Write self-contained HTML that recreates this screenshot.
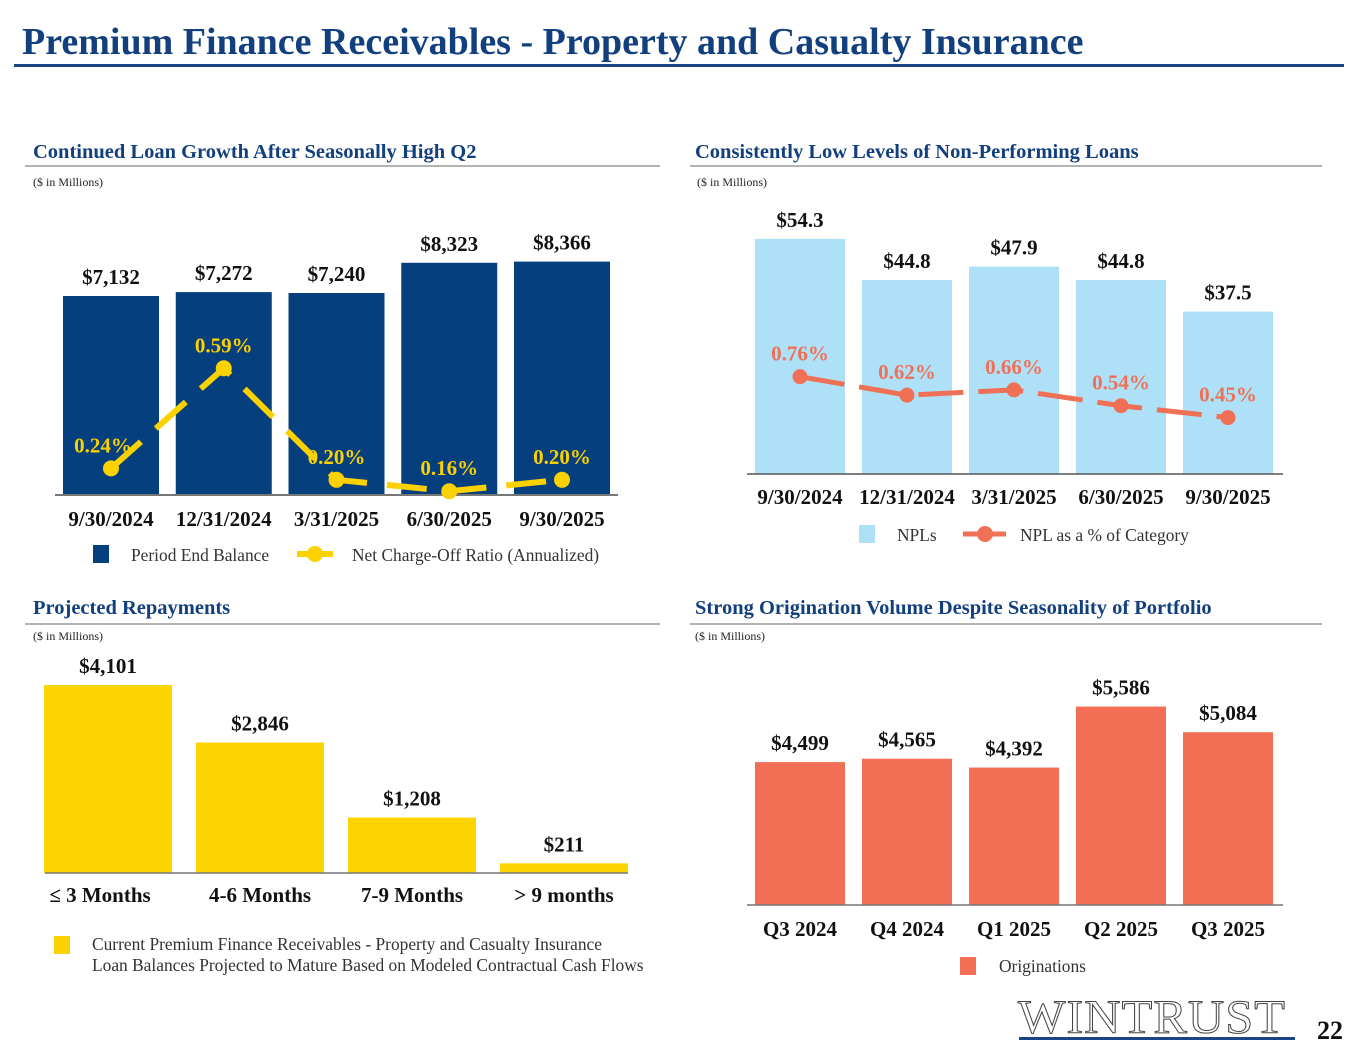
<!DOCTYPE html>
<html><head><meta charset="utf-8"><style>
body{margin:0;background:#fff;width:1365px;height:1055px;overflow:hidden;font-family:"Liberation Serif",serif}
svg{display:block}
</style></head><body>
<svg id="s" width="1365" height="1055" xmlns="http://www.w3.org/2000/svg" font-family="Liberation Serif, serif">
<text x="22" y="54" font-size="38" font-weight="bold" fill="#123f7d">Premium Finance Receivables - Property and Casualty Insurance</text>
<rect x="14" y="64" width="1330" height="3" fill="#1a4585"/>
<g font-size="20.5" font-weight="bold" fill="#123f7d">
<text x="33" y="158">Continued Loan Growth After Seasonally High Q2</text>
<text x="695" y="158">Consistently Low Levels of Non-Performing Loans</text>
<text x="33" y="614">Projected Repayments</text>
<text x="695" y="614">Strong Origination Volume Despite Seasonality of Portfolio</text>
</g>
<g fill="#b3b3b3"><rect x="25" y="165" width="635" height="2"/><rect x="690" y="165" width="632" height="2"/><rect x="25" y="623" width="635" height="2"/><rect x="690" y="623" width="632" height="2"/></g>
<g font-size="12" fill="#222">
<text x="33" y="186">($ in Millions)</text>
<text x="697" y="186">($ in Millions)</text>
<text x="33" y="640">($ in Millions)</text>
<text x="695" y="640">($ in Millions)</text>
</g>
<g id="c1"></g>
<g id="c2"></g>
<g id="c3"></g>
<g id="c4"></g>
<rect x="93" y="545" width="16" height="18" fill="#063f7e"/>
<text x="131" y="561" font-size="17.4" fill="#333">Period End Balance</text>
<line x1="297" y1="554" x2="333" y2="554" stroke="#fcd100" stroke-width="6"/>
<circle cx="315" cy="554" r="8" fill="#fcd100"/>
<text x="352" y="561" font-size="17.4" fill="#333">Net Charge-Off Ratio (Annualized)</text>
<rect x="859" y="525" width="16" height="18" fill="#aee0f8"/>
<text x="897" y="541" font-size="17.4" fill="#333">NPLs</text>
<line x1="963" y1="534" x2="1006" y2="534" stroke="#f07056" stroke-width="5"/>
<circle cx="985" cy="534" r="8" fill="#f07056"/>
<text x="1020" y="541" font-size="17.4" fill="#333">NPL as a % of Category</text>
<rect x="54" y="936" width="16" height="18" fill="#fcd100"/>
<text x="92" y="950" font-size="17.4" fill="#333">Current Premium Finance Receivables - Property and Casualty Insurance</text>
<text x="92" y="971" font-size="17.4" fill="#333">Loan Balances Projected to Mature Based on Modeled Contractual Cash Flows</text>
<rect x="960" y="957" width="16" height="18" fill="#f26e55"/>
<text x="999" y="972" font-size="17.4" fill="#333">Originations</text>
<text x="1018" y="1033" font-size="48" fill="#fff" stroke="#444" stroke-width="1" letter-spacing="1" textLength="268" lengthAdjust="spacingAndGlyphs">WINTRUST</text>
<rect x="1019" y="1037" width="276" height="3" fill="#1a4585"/>
<text x="1317" y="1039" font-size="26" font-weight="bold" fill="#111">22</text>
</svg>
<script>
const dates=["9/30/2024","12/31/2024","3/31/2025","6/30/2025","9/30/2025"];
const balances=[7132,7272,7240,8323,8366];
const balanceLabels=["$7,132","$7,272","$7,240","$8,323","$8,366"];
const ncoRatio=[0.24,0.59,0.20,0.16,0.20];
const ncoLabels=["0.24%","0.59%","0.20%","0.16%","0.20%"];
const nplValues=[54.3,44.8,47.9,44.8,37.5];
const nplLabels=["$54.3","$44.8","$47.9","$44.8","$37.5"];
const nplPct=[0.76,0.62,0.66,0.54,0.45];
const nplPctLabels=["0.76%","0.62%","0.66%","0.54%","0.45%"];
const repayCats=["≤ 3 Months","4-6 Months","7-9 Months","> 9 months"];
const repayValues=[4101,2846,1208,211];
const repayLabels=["$4,101","$2,846","$1,208","$211"];
const quarters=["Q3 2024","Q4 2024","Q1 2025","Q2 2025","Q3 2025"];
const originations=[4499,4565,4392,5586,5084];
const origLabels=["$4,499","$4,565","$4,392","$5,586","$5,084"];

const NS="http://www.w3.org/2000/svg";
const FS=21;
function mk(parent,tag,attrs,text){const e=document.createElementNS(NS,tag);for(const k in attrs)e.setAttribute(k,attrs[k]);if(text!==undefined)e.textContent=text;parent.appendChild(e);return e;}

(function(){
const g=document.getElementById('c1');
const x=i=>111+i*112.75, base=495, yB=v=>base-v*0.0279, yL=v=>537-v*286;
balances.forEach((v,i)=>{
 const r=mk(g,'rect',{x:x(i)-48,y:yB(v),width:96,height:base-yB(v),fill:'#063f7e'});
 
 
 const t=mk(g,'text',{x:x(i),y:yB(v)-12,'text-anchor':'middle','font-size':FS,'font-weight':'bold',fill:'#111'},balanceLabels[i]);
 
 
 const d=mk(g,'text',{x:x(i),y:526,'text-anchor':'middle','font-size':FS,'font-weight':'bold',fill:'#111'},dates[i]);
 
 
});
mk(g,'line',{x1:55,y1:495,x2:618,y2:495,stroke:'#777','stroke-width':2});
const pts=ncoRatio.map((v,i)=>x(i)+','+yL(v)).join(' ');
const pl=mk(g,'polyline',{points:pts,fill:'none',stroke:'#fcd100','stroke-width':6,'stroke-dasharray':'40 20'});


ncoRatio.forEach((v,i)=>{
 const c=mk(g,'circle',{cx:x(i),cy:yL(v),r:8,fill:'#fcd100'});
 
 
 const t=mk(g,'text',{x:x(i)-(i==0?8:0),y:yL(v)-16,'text-anchor':'middle','font-size':FS,'font-weight':'bold',fill:'#fcd100'},ncoLabels[i]);
 
 
});
})();

(function(){
const g=document.getElementById('c2');
const x=i=>800+i*107, base=474, yB=v=>base-v*4.33, yL=v=>477-v*132;
nplValues.forEach((v,i)=>{
 const r=mk(g,'rect',{x:x(i)-45,y:yB(v),width:90,height:base-yB(v),fill:'#aee0f8'});
 
 
 const t=mk(g,'text',{x:x(i),y:yB(v)-12,'text-anchor':'middle','font-size':FS,'font-weight':'bold',fill:'#111'},nplLabels[i]);
 
 
 const d=mk(g,'text',{x:x(i),y:504,'text-anchor':'middle','font-size':FS,'font-weight':'bold',fill:'#111'},dates[i]);
 
 
});
mk(g,'line',{x1:747,y1:474,x2:1283,y2:474,stroke:'#555','stroke-width':1.5});
const pts=nplPct.map((v,i)=>x(i)+','+yL(v)).join(' ');
const pl=mk(g,'polyline',{points:pts,fill:'none',stroke:'#f07056','stroke-width':5,'stroke-dasharray':'45 15'});


nplPct.forEach((v,i)=>{
 const c=mk(g,'circle',{cx:x(i),cy:yL(v),r:7.5,fill:'#f07056'});
 
 
 const t=mk(g,'text',{x:x(i),y:yL(v)-16,'text-anchor':'middle','font-size':FS,'font-weight':'bold',fill:'#f07056'},nplPctLabels[i]);
 
 
});
})();

(function(){
const g=document.getElementById('c3');
const x=i=>108+i*152, base=873, yB=v=>base-v*0.04585;
repayValues.forEach((v,i)=>{
 const r=mk(g,'rect',{x:x(i)-64,y:yB(v),width:128,height:base-yB(v),fill:'#fcd500'});
 
 
 const t=mk(g,'text',{x:x(i),y:yB(v)-12,'text-anchor':'middle','font-size':FS,'font-weight':'bold',fill:'#111'},repayLabels[i]);
 
 
 const d=mk(g,'text',{x:x(i)-(i==0?8:0),y:902,'text-anchor':'middle','font-size':FS,'font-weight':'bold',fill:'#111'},repayCats[i]);
 
 
});
mk(g,'line',{x1:45,y1:873,x2:628,y2:873,stroke:'#777','stroke-width':1.5});
})();

(function(){
const g=document.getElementById('c4');
const x=i=>800+i*107, base=905, yB=v=>992-v*0.0511;
originations.forEach((v,i)=>{
 const r=mk(g,'rect',{x:x(i)-45,y:yB(v),width:90,height:base-yB(v),fill:'#f26e55'});
 
 
 const t=mk(g,'text',{x:x(i),y:yB(v)-12,'text-anchor':'middle','font-size':FS,'font-weight':'bold',fill:'#111'},origLabels[i]);
 
 
 const d=mk(g,'text',{x:x(i),y:936,'text-anchor':'middle','font-size':FS,'font-weight':'bold',fill:'#111'},quarters[i]);
 
 
});
mk(g,'line',{x1:747,y1:905,x2:1283,y2:905,stroke:'#777','stroke-width':1.5});
})();
</script>
</body></html>
